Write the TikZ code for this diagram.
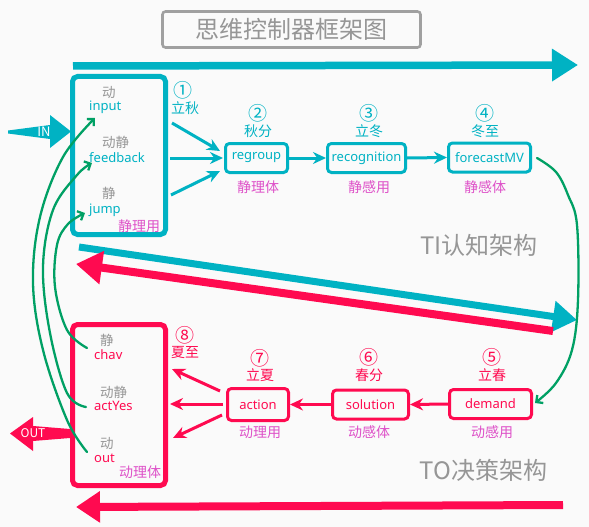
\documentclass[tikz,border=0pt]{standalone}
\usepackage{fontspec}
\setmainfont{Noto Sans CJK SC}
\newfontfamily\latf{Noto Sans}
\usetikzlibrary{arrows.meta,calc}
\definecolor{cy}{RGB}{0,178,195}
\definecolor{rd}{RGB}{255,10,80}
\definecolor{mg}{RGB}{222,80,200}
\definecolor{gy}{RGB}{150,150,150}
\definecolor{tg}{RGB}{160,160,160}
\definecolor{gn}{RGB}{0,160,100}
\definecolor{bg}{RGB}{250,250,250}
\begin{document}
\begin{tikzpicture}[x=1pt,y=-1pt,
  bigbox/.style={draw,line width=5pt,rounded corners=5pt,inner sep=0pt,minimum width=93pt},
  smallbox/.style={draw,line width=3pt,rounded corners=4pt,inner sep=0pt,minimum height=29pt,font=\latf\fontsize{13}{13}\selectfont},
  glbl/.style={inner sep=0pt,anchor=west,text=gy,font=\fontsize{13.5}{13.5}\selectfont},
  tlbl/.style={inner sep=0pt,anchor=west,font=\latf\fontsize{13}{13}\selectfont},
  num/.style={inner sep=0pt,font=\fontsize{19}{19}\selectfont},
  season/.style={inner sep=0pt,font=\fontsize{14}{14}\selectfont},
  mlbl/.style={inner sep=0pt,text=mg,font=\fontsize{14}{14}\selectfont},
  big/.style={inner sep=0pt,text=gy,font=\fontsize{24}{24}\selectfont},
  thin/.style={line width=3pt,-{Stealth[length=13pt,width=12pt]}},
  green/.style={gn,line width=2.3pt,line cap=round,-{Straight Barb[length=5pt,width=10pt]}},
]
\useasboundingbox (0,0) rectangle (589,527);
\fill[bg] (0,0) rectangle (589,527);

% title
\node[draw=tg,line width=2.6pt,rounded corners=3pt,minimum width=258pt,minimum height=36pt,inner sep=0pt,
  text=gy,font=\fontsize{24}{24}\selectfont] (title) at (291.5,29.5) {思维控制器框架图};

% top arrow
\coordinate (topA) at (73,66);
\coordinate (topB) at (578,65);
\draw[cy,line width=7.5pt,-{Triangle[length=26pt,width=31pt]}] (topA) -- (topB);

% TI box
\node[bigbox,cy,minimum height=158pt] (ti) at (119,155.5) {};
\node[glbl] (l1) at (102,92) {动};
\node[tlbl,text=cy] (input) at (89,107) {input};
\node[glbl] (l2) at (102,142) {动静};
\node[tlbl,text=cy] (feedback) at (89,158) {feedback};
\node[glbl] (l3) at (102,193) {静};
\node[tlbl,text=cy] (jump) at (89,210) {jump};
\node[mlbl] (tim) at (139,226) {静理用};
\node[num,text=cy] (n1) at (183,90) {①};
\node[season,text=cy] (s1) at (185,108) {立秋};

% IN arrow
\fill[cy] (8,130.5) -- (50,125) -- (50,115) -- (71,131.5) -- (50,148) -- (50,139) -- (8,133.5) -- cycle;
\node[inner sep=0pt,text=white,font=\fontsize{13}{13}\selectfont] (in) at (44,132) {IN};

% top chain
\node[smallbox,cy,text=cy,minimum width=62pt] (regroup) at (256.5,158) {regroup};
\node[smallbox,cy,text=cy,minimum width=78pt] (recog) at (366.5,158) {recognition};
\node[smallbox,cy,text=cy,minimum width=82pt] (forecast) at (489.5,157.5) {forecastMV};
\node[num,text=cy] (n2) at (258,113) {②};
\node[season,text=cy] (s2) at (258,131) {秋分};
\node[mlbl] (m2) at (258,187) {静理体};
\node[num,text=cy] (n3) at (369,113) {③};
\node[season,text=cy] (s3) at (369,131) {立冬};
\node[mlbl] (m3) at (369,187) {静感用};
\node[num,text=cy] (n4) at (485,113) {④};
\node[season,text=cy] (s4) at (485,131) {冬至};
\node[mlbl] (m4) at (485,187) {静感体};

\coordinate (a1) at (172,123); \coordinate (b1) at (220,151);
\coordinate (a2) at (170,158); \coordinate (b2) at (223,158);
\coordinate (a3) at (171,195); \coordinate (b3) at (220,171);
\draw[cy,thin] (a1) -- (b1);
\draw[cy,thin] (a2) -- (b2);
\draw[cy,thin] (a3) -- (b3);
\draw[cy,thin] (regroup.east) -- (recog.west);
\draw[cy,thin] (recog.east) -- (forecast.west);

\node[big] (ti-t) at (479,245) {TI认知架构};

% diagonal arrows
\coordinate (cA) at (79,247);
\coordinate (cB) at (577,320);
\draw[cy,line width=7pt,-{Triangle[length=24pt,width=30pt]}] (cA) -- (cB);
\coordinate (rA) at (553,331);
\coordinate (rB) at (76,264);
\draw[rd,line width=8pt,-{Triangle[length=26pt,width=32pt]}] (rA) -- (rB);

% TO box
\node[bigbox,rd,minimum height=161pt] (to) at (119,405) {};
\node[glbl] (k1) at (100,340) {静};
\node[tlbl,text=rd] (chav) at (94,355) {chav};
\node[glbl] (k2) at (100,392) {动静};
\node[tlbl,text=rd] (actyes) at (94,406) {actYes};
\node[glbl] (k3) at (100,443) {动};
\node[tlbl,text=rd] (out) at (94,458) {out};
\node[mlbl] (tom) at (140,472) {动理体};
\node[num,text=rd] (n8) at (185,335) {⑧};
\node[season,text=rd] (s8) at (185,352) {夏至};

% OUT arrow
\fill[rd] (70,429) -- (33,426) -- (33,417) -- (10,433.5) -- (33,451) -- (33,441) -- (70,438) -- cycle;
\node[inner sep=0pt,text=white,font=\fontsize{12}{12}\selectfont] (outl) at (33,433.5) {OUT};

% bottom chain
\node[smallbox,rd,text=rd,minimum width=61pt,minimum height=32pt] (action) at (258,404.5) {action};
\node[smallbox,rd,text=rd,minimum width=76pt] (solution) at (370.5,404.5) {solution};
\node[smallbox,rd,text=rd,minimum width=82pt] (demand) at (490.5,404) {demand};
\node[num,text=rd] (n7) at (260,358) {⑦};
\node[season,text=rd] (s7) at (260,375) {立夏};
\node[mlbl] (m7) at (260,432) {动理用};
\node[num,text=rd] (n6) at (369,357) {⑥};
\node[season,text=rd] (s6) at (369,375) {春分};
\node[mlbl] (m6) at (369,432) {动感体};
\node[num,text=rd] (n5) at (492,357) {⑤};
\node[season,text=rd] (s5) at (492,375) {立春};
\node[mlbl] (m5) at (492,432) {动感用};

\draw[rd,thin] (demand.west) -- (solution.east);
\draw[rd,thin] (solution.west) -- (action.west -| action.east);

\coordinate (d1) at (220,391); \coordinate (e1) at (172,369);
\coordinate (d2) at (223,404); \coordinate (e2) at (170,404);
\coordinate (d3) at (222,415); \coordinate (e3) at (173,438);
\draw[rd,thin] (d1) -- (e1);
\draw[rd,thin] (d2) -- (e2);
\draw[rd,thin] (d3) -- (e3);

\node[big] (to-t) at (483.5,470) {TO决策架构};

% bottom arrow
\coordinate (bA) at (563,505);
\coordinate (bB) at (76,507);
\draw[rd,line width=8pt,-{Triangle[length=24pt,width=30pt]}] (bA) -- (bB);

% green curves
\coordinate (g1s) at (87,452);
\coordinate (g1e) at (95,118);
\draw[green] plot[smooth,tension=0.6] coordinates {(g1s) (67,420) (43,350) (33,283) (40,217) (63,157) (g1e)};
\coordinate (g2s) at (86,407);
\coordinate (g2e) at (92,163);
\draw[green] plot[smooth,tension=0.6] coordinates {(g2s) (67,393) (50,333) (43,267) (53,210) (77,175) (g2e)};
\coordinate (g3s) at (87,348);
\coordinate (g3e) at (85,213);
\draw[green] plot[smooth,tension=0.6] coordinates {(g3s) (67,330) (55,287) (57,245) (68,224) (g3e)};
\coordinate (g4s) at (537,158);
\coordinate (g4e) at (535,403);
\draw[green] plot[smooth,tension=0.6] coordinates {(g4s) (556,172) (568,195) (577,225) (578,300) (572,350) (556,383) (g4e)};
\end{tikzpicture}
\end{document}
